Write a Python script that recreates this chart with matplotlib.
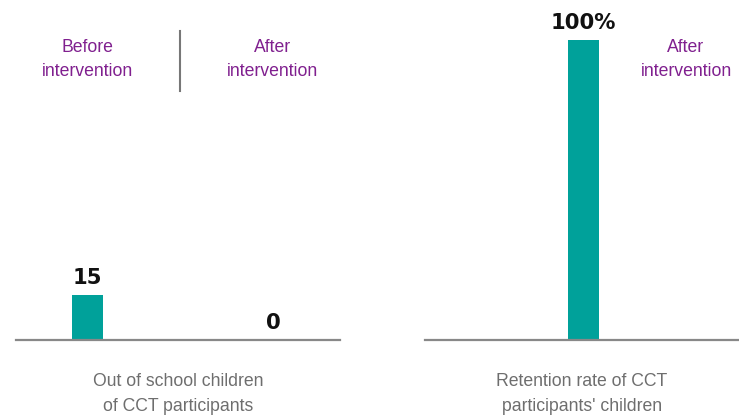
import matplotlib
matplotlib.use("Agg")
import matplotlib.pyplot as plt

# Data
left_categories = ["Before\nintervention", "After\nintervention"]
left_values = [15, 0]
left_labels = ["15", "0"]
left_title = "Out of school children\nof CCT participants"

right_categories = ["After\nintervention"]
right_values = [100]
right_labels = ["100%"]
right_title = "Retention rate of CCT\nparticipants' children"

W, H = 739, 417
BAR = "#00A19A"
PURPLE = "#80208F"
GREY_TXT = "#6E6E6E"
BASE = "#888888"
plt.rcParams['font.family'] = ['Liberation Sans', 'DejaVu Sans']
NUMFONT = ['DejaVu Sans']

fig = plt.figure(figsize=(W / 100, H / 100), dpi=100)

def px_axes(x0, x1, y_top, y_bot):
    return fig.add_axes([x0 / W, 1 - y_bot / H, (x1 - x0) / W, (y_bot - y_top) / H])

unit = 185.5  # px per category step
bw = 31 / unit

def num_label(ax, x, v, lab):
    ax.annotate(lab, (x, v), xytext=(0, 5), textcoords="offset points",
                ha="center", va="bottom", fontsize=15.2, fontweight="bold",
                family=NUMFONT, color="#111111")

# Left panel
axL = px_axes(16, 340, 40, 340)
axL.set_xlim(-(87.5 - 16) / unit, (340 - 87.5) / unit)
axL.set_ylim(0, 100)
xs = list(range(len(left_values)))
axL.bar(xs, left_values, width=bw, color=BAR)
for x, v, lab in zip(xs, left_values, left_labels):
    num_label(axL, x, v, lab)
for x, c in zip(xs, left_categories):
    axL.text(x, 93.4, c, ha="center", va="center", fontsize=12.7, color=PURPLE,
             linespacing=1.55, clip_on=False)
axL.plot([0.5, 0.5], [103, 83], color="#777777", lw=1.5, clip_on=False)
axL.text(0.5, -0.18, left_title, transform=axL.transAxes, ha="center", va="center",
         fontsize=12.7, color=GREY_TXT, linespacing=1.6)

# Right panel
axR = px_axes(425, 739, 40, 340)
axR.set_xlim(-(583.5 - 425) / unit, (739 - 583.5) / unit)
axR.set_ylim(0, 100)
xr = list(range(len(right_values)))
axR.bar(xr, right_values, width=bw, color=BAR)
for x, v, lab in zip(xr, right_values, right_labels):
    num_label(axR, x, v, lab)
axR.text((686 - 583.5) / unit, 93.4, right_categories[0], ha="center", va="center",
         fontsize=12.7, color=PURPLE, linespacing=1.55, clip_on=False)
axR.text(0.5, -0.18, right_title, transform=axR.transAxes, ha="center", va="center",
         fontsize=12.7, color=GREY_TXT, linespacing=1.6)

for ax in (axL, axR):
    for s in ["top", "right", "left"]:
        ax.spines[s].set_visible(False)
    ax.spines["bottom"].set_color(BASE)
    ax.spines["bottom"].set_linewidth(1.6)
    ax.set_xticks([])
    ax.set_yticks([])
    ax.patch.set_alpha(0)

fig.savefig("out.png", dpi=100)
